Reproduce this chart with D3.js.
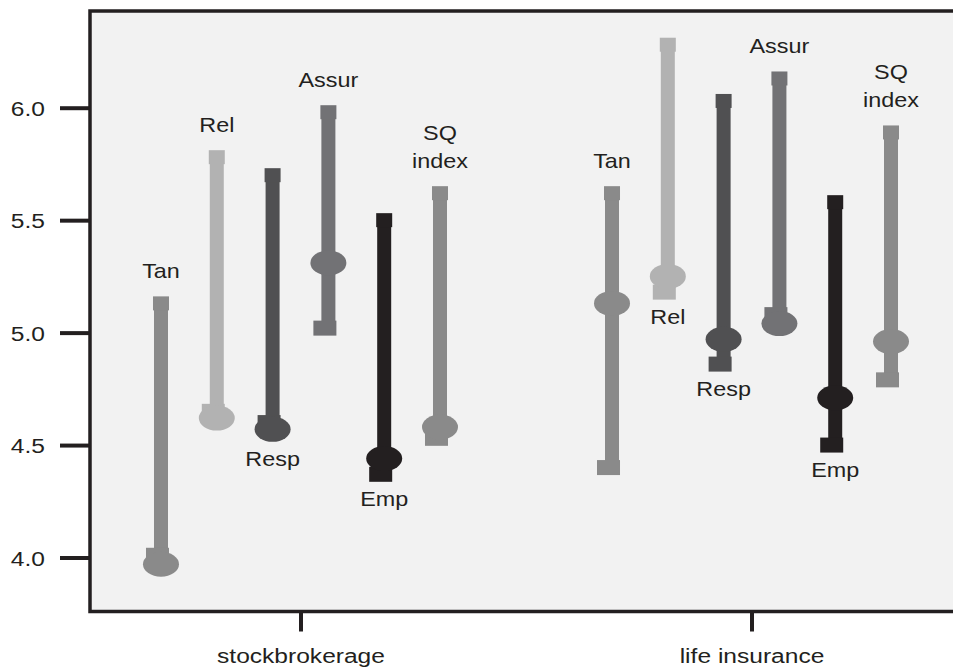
<!DOCTYPE html>
<html lang="en">
<head>
    <meta charset="UTF-8">
    <title>Service quality dimensions</title>
    <script src="https://d3js.org/d3.v7.min.js"></script>
    <style>
        body {
            margin: 0;
            background-color: #ffffff;
        }
        svg text {
            font-family: "Liberation Sans", Arial, sans-serif;
            fill: #231f20;
        }
    </style>
</head>
<body>
    <svg id="chart" width="953" height="667"></svg>

    <script>
        // Industries and SERVQUAL dimensions
        const categories = ["stockbrokerage", "life insurance"];
        const dimensions = ["Tan", "Rel", "Resp", "Assur", "Emp", "SQ index"];
        const dimColors = ["#8a8a8a", "#b2b2b2", "#505052", "#727275", "#231f20", "#8a8a8a"];

        // values (high / low / mean marker)
        const highBroker = [5.13, 5.78, 5.70, 5.98, 5.50, 5.62];
        const lowBroker  = [4.01, 4.65, 4.60, 5.02, 4.37, 4.53];
        const meanBroker = [3.97, 4.62, 4.57, 5.31, 4.44, 4.58];

        const highLife = [5.62, 6.28, 6.03, 6.13, 5.58, 5.89];
        const lowLife  = [4.40, 5.18, 4.86, 5.08, 4.50, 4.79];
        const meanLife = [5.13, 5.25, 4.97, 5.04, 4.71, 4.96];

        // which side of the bar the name sits on
        const labelSideBroker = ["above", "above", "below", "above", "below", "above"];
        const labelSideLife   = ["above", "below", "below", "above", "below", "above"];

        const yTicks = [4.0, 4.5, 5.0, 5.5, 6.0];

        const rows = [];
        categories.forEach((cat, ci) => {
            const hi = ci === 0 ? highBroker : highLife;
            const lo = ci === 0 ? lowBroker : lowLife;
            const mn = ci === 0 ? meanBroker : meanLife;
            const side = ci === 0 ? labelSideBroker : labelSideLife;
            dimensions.forEach((dim, di) => {
                rows.push({ cat: cat, dim: dim, high: hi[di], low: lo[di], mean: mn[di], side: side[di], color: dimColors[di] });
            });
        });

        const svg = d3.select("#chart");
        const margin = { top: 11, left: 90 };
        const plotRight = 962;
        const plotBottom = 611.5;
        const stretch = 1.17;   // the type in the original is a bit wide

        const y = d3.scaleLinear().domain([3.76, 6.43]).range([plotBottom, margin.top]);
        const x = d3.scalePoint().domain(categories).range([margin.left, plotRight]).padding(0.4667);
        const innerStep = 55.8;
        const inner = d3.scalePoint().domain(dimensions).range([-2.5 * innerStep, 2.5 * innerStep]);

        // plot frame
        svg.append("rect")
            .attr("x", margin.left)
            .attr("y", margin.top)
            .attr("width", plotRight - margin.left)
            .attr("height", plotBottom - margin.top)
            .attr("fill", "#f2f2f2")
            .attr("stroke", "#231f20")
            .attr("stroke-width", 3.5);

        // y axis
        const yAxis = svg.append("g")
            .attr("transform", `translate(${margin.left},0)`)
            .call(d3.axisLeft(y).tickValues(yTicks).tickFormat(d3.format(".1f")).tickSize(30).tickPadding(15));
        yAxis.select(".domain").remove();
        yAxis.selectAll(".tick line").attr("stroke", "#231f20").attr("stroke-width", 4);
        yAxis.selectAll(".tick text")
            .attr("x", 0).attr("dy", null)
            .attr("transform", `translate(-45,7.5) scale(${stretch},1)`)
            .style("font-size", "21px")
            .attr("fill", "#231f20");

        // x axis
        const xAxis = svg.append("g")
            .attr("transform", `translate(0,${plotBottom})`)
            .call(d3.axisBottom(x).tickSize(20).tickPadding(16));
        xAxis.select(".domain").remove();
        xAxis.selectAll(".tick line").attr("stroke", "#231f20").attr("stroke-width", 4);
        xAxis.selectAll(".tick text")
            .attr("y", 0).attr("dy", null)
            .attr("transform", `translate(0,51) scale(${stretch},1)`)
            .style("font-size", "21px")
            .attr("fill", "#231f20");

        const marks = svg.append("g");
        const barW = 14;

        rows.forEach(d => {
            const cx = x(d.cat) + inner(d.dim);
            const top = y(Math.max(d.high, d.low, d.mean));
            const bottom = y(Math.min(d.high, d.low, d.mean));
            const g = marks.append("g");

            // vertical bar
            g.append("rect")
                .attr("x", cx - barW / 2)
                .attr("y", top)
                .attr("width", barW)
                .attr("height", bottom - top)
                .attr("fill", d.color);

            // high cap
            g.append("rect")
                .attr("x", cx - 8)
                .attr("y", y(d.high) - 7)
                .attr("width", 16)
                .attr("height", 14)
                .attr("fill", d.color);

            // low cap, sits a little to the left
            g.append("rect")
                .attr("x", cx - 15)
                .attr("y", y(d.low) - 7.5)
                .attr("width", 23)
                .attr("height", 15)
                .attr("fill", d.color);

            // mean marker
            g.append("ellipse")
                .attr("cx", cx)
                .attr("cy", y(d.mean))
                .attr("rx", 18)
                .attr("ry", 12.5)
                .attr("fill", d.color);

            // name label
            const lines = d.dim.split(" ");
            let baseline;
            if (d.side === "above") {
                baseline = y(d.high) - 7 - 18;
                lines.slice().reverse().forEach((t, i) => {
                    g.append("text")
                        .attr("text-anchor", "middle")
                        .attr("transform", `translate(${cx},${baseline - i * 28}) scale(${stretch},1)`)
                        .style("font-size", "20px")
                        .text(t);
                });
            } else {
                const lowest = Math.max(y(d.mean) + 12.5, y(d.low) + 7.5);
                baseline = lowest + 24;
                lines.forEach((t, i) => {
                    g.append("text")
                        .attr("text-anchor", "middle")
                        .attr("transform", `translate(${cx},${baseline + i * 28}) scale(${stretch},1)`)
                        .style("font-size", "20px")
                        .text(t);
                });
            }
        });
    </script>
</body>
</html>
